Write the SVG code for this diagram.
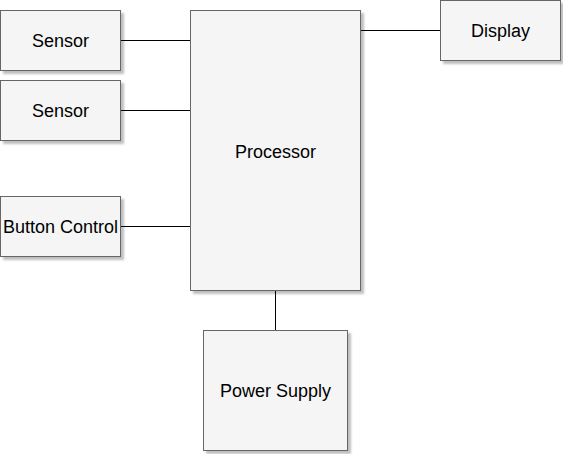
<svg xmlns="http://www.w3.org/2000/svg" width="563" height="454" viewBox="0 0 563 454">
<defs>
<filter id="sh" x="-10%" y="-10%" width="130%" height="130%">
<feOffset in="SourceAlpha" dx="3" dy="3" result="o"/>
<feColorMatrix in="o" type="matrix" values="0 0 0 0 0  0 0 0 0 0  0 0 0 0 0  0 0 0 0.25 0" result="s"/>
<feGaussianBlur in="s" stdDeviation="0.8" result="b"/>
<feMerge><feMergeNode in="b"/><feMergeNode in="SourceGraphic"/></feMerge>
</filter>
</defs>
<style>
.box{fill:#f5f5f5;stroke:#666666;stroke-width:1;filter:url(#sh)}
.lbl{font-family:"Liberation Sans",Arial,sans-serif;font-size:18px;fill:#000;text-anchor:middle;dominant-baseline:central}
.con{stroke:#000;stroke-width:1;fill:none}
</style>
<rect width="563" height="454" fill="#ffffff"/>
<g id="connectors">
<line class="con" x1="120" y1="40.5" x2="190" y2="40.5"/>
<line class="con" x1="120" y1="110.5" x2="190" y2="110.5"/>
<line class="con" x1="120" y1="226.5" x2="190" y2="226.5"/>
<line class="con" x1="360" y1="30.5" x2="440" y2="30.5"/>
<line class="con" x1="275.5" y1="290" x2="275.5" y2="330"/>
</g>
<g id="processor"><rect class="box" x="190.5" y="10.5" width="170" height="280"/><text class="lbl" x="275.5" y="152">Processor</text></g>
<g id="sensor1"><rect class="box" x="0.5" y="10.5" width="120" height="60"/><text class="lbl" x="60.5" y="41">Sensor</text></g>
<g id="sensor2"><rect class="box" x="0.5" y="80.5" width="120" height="60"/><text class="lbl" x="60.5" y="111">Sensor</text></g>
<g id="button"><rect class="box" x="0.5" y="196.5" width="120" height="60"/><text class="lbl" x="60.5" y="227">Button Control</text></g>
<g id="display"><rect class="box" x="440.5" y="0.5" width="120" height="60"/><text class="lbl" x="500.5" y="31">Display</text></g>
<g id="power"><rect class="box" x="203.5" y="330.5" width="144" height="120"/><text class="lbl" x="275.5" y="391">Power Supply</text></g>
</svg>
